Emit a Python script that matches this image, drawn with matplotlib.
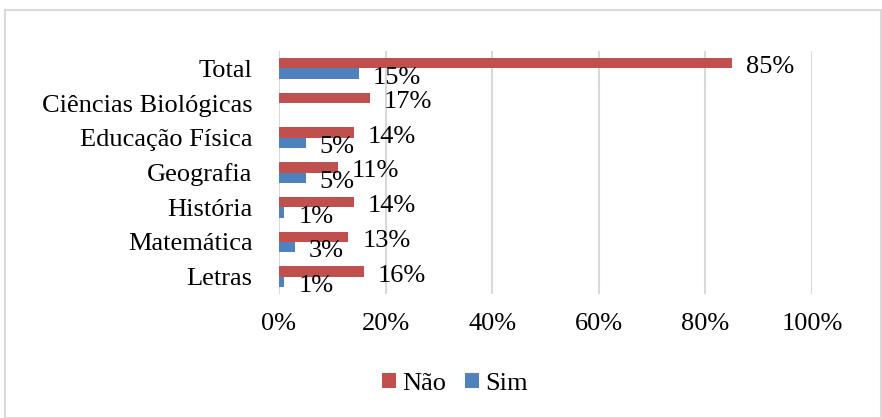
import matplotlib
matplotlib.use("Agg")
import matplotlib.pyplot as plt
from matplotlib.patches import Rectangle, Patch
import numpy as np

categories = ["Total", "Ciências Biológicas", "Educação Física", "Geografia",
              "História", "Matemática", "Letras"]
nao = [85, 17, 14, 11, 14, 13, 16]
sim = [15, 0, 5, 5, 1, 3, 1]
sim_labels = ["15%", "", "5%", "5%", "1%", "3%", "1%"]
nao_labels = ["85%", "17%", "14%", "11%", "14%", "13%", "16%"]
xticks = [0, 20, 40, 60, 80, 100]
xticklabels = ["0%", "20%", "40%", "60%", "80%", "100%"]

plt.rcParams['font.family'] = ['Liberation Serif', 'DejaVu Serif']
FS = 19

W, H = 882, 418
fig = plt.figure(figsize=(W / 100, H / 100), dpi=100)
fig.patches.append(Rectangle((5 / W, 0), (W - 6) / W, (H - 10) / H,
                             transform=fig.transFigure, fill=False,
                             edgecolor="#d9d9d9", linewidth=1.5))

ax = fig.add_axes([279 / W, 1 - 294 / H, (812 - 279) / W, (294 - 51) / H])
red = "#C0504D"
blue = "#4F81BD"
y = np.arange(len(categories))
h = 0.30
off = 0.15
ax.barh(y - off, nao, height=h, color=red, edgecolor="none", zorder=3)
ax.barh(y + off, sim, height=h, color=blue, edgecolor="none", zorder=3)

for i in range(len(categories)):
    ax.annotate(nao_labels[i], (nao[i], y[i] - off), xytext=(10, -3),
                textcoords="offset points", ha="left", va="center", fontsize=FS)
    if sim_labels[i]:
        ax.annotate(sim_labels[i], (sim[i], y[i] + off), xytext=(10, -3),
                    textcoords="offset points", ha="left", va="center", fontsize=FS)

ax.set_xlim(0, 100)
ax.set_ylim(len(categories) - 0.5, -0.5)
ax.set_yticks(y)
ax.set_yticklabels(categories, fontsize=FS)
ax.set_xticks(xticks)
ax.set_xticklabels(xticklabels, fontsize=FS)
ax.tick_params(axis='both', length=0)
ax.tick_params(axis='y', pad=19)
ax.tick_params(axis='x', pad=14)
ax.grid(axis='x', color="#d9d9d9", linewidth=1.5, zorder=0)
for s in ax.spines.values():
    s.set_visible(False)

handles = [Patch(facecolor=red, label="Não"), Patch(facecolor=blue, label="Sim")]
fig.legend(handles=handles, loc="center", bbox_to_anchor=(455 / W, 1 - 384 / H),
           ncol=2, frameon=False, fontsize=FS, handlelength=0.53, handleheight=0.53,
           handletextpad=0.25, columnspacing=0.7)

fig.savefig("out.png", dpi=100)
